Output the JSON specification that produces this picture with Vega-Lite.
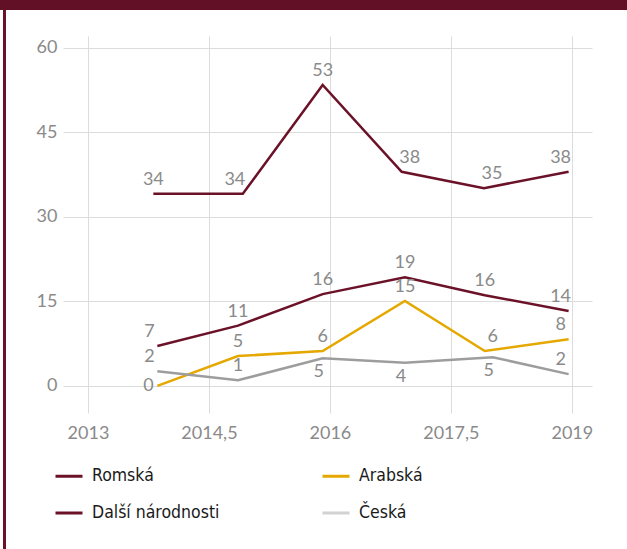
{
  "$schema": "https://vega.github.io/schema/vega-lite/v6.json",
  "padding": 0,
  "background": "white",
  "spacing": 0,
  "bounds": "flush",
  "config": {"view": {"stroke": null}, "font": "Lato", "concat": {"spacing": 0}},
  "vconcat": [
    {
      "width": 627, "height": 10,
      "data": {"values": [{}]},
      "mark": {"type": "point", "opacity": 0, "size": 0, "strokeWidth": 0},
      "view": {"fill": "#611026", "stroke": null}
    },
    {
      "spacing": 0,
      "bounds": "flush",
      "hconcat": [
        {"width": 3, "height": 1, "data": {"values": [{}]}, "mark": {"type": "point", "opacity": 0, "size": 0, "strokeWidth": 0}, "view": {"stroke": null}},
        {"width": 3, "height": 539, "data": {"values": [{}]}, "mark": {"type": "point", "opacity": 0, "size": 0, "strokeWidth": 0}, "view": {"fill": "#6b1229", "stroke": null}},
        {"width": 57, "height": 1, "data": {"values": [{}]}, "mark": {"type": "point", "opacity": 0, "size": 0, "strokeWidth": 0}, "view": {"stroke": null}},
        {
          "spacing": 0,
          "bounds": "flush",
          "vconcat": [
            {"width": 1, "height": 26, "data": {"values": [{}]}, "mark": {"type": "point", "opacity": 0, "size": 0, "strokeWidth": 0}, "view": {"stroke": null}},
            {
              "width": 529,
              "height": 377,
              "data": {"values": [
                {"series": "Romská", "year": 2013.81, "value": 34.1, "label": "34", "place": "above"},
                {"series": "Romská", "year": 2014.92, "value": 34.1, "label": "34", "place": "aboveLeft"},
                {"series": "Romská", "year": 2015.91, "value": 53.4, "label": "53", "place": "above"},
                {"series": "Romská", "year": 2016.89, "value": 38.0, "label": "38", "place": "aboveRight"},
                {"series": "Romská", "year": 2017.91, "value": 35.1, "label": "35", "place": "aboveRight"},
                {"series": "Romská", "year": 2018.96, "value": 38.0, "label": "38", "place": "aboveLeft"},
                {"series": "Další národnosti", "year": 2013.86, "value": 7.1, "label": "7", "place": "aboveLeft"},
                {"series": "Další národnosti", "year": 2014.86, "value": 10.7, "label": "11", "place": "above"},
                {"series": "Další národnosti", "year": 2015.91, "value": 16.3, "label": "16", "place": "above"},
                {"series": "Další národnosti", "year": 2016.93, "value": 19.3, "label": "19", "place": "above"},
                {"series": "Další národnosti", "year": 2017.92, "value": 16.1, "label": "16", "place": "above"},
                {"series": "Další národnosti", "year": 2018.96, "value": 13.3, "label": "14", "place": "aboveLeft"},
                {"series": "Arabská", "year": 2013.86, "value": 0, "label": "0", "place": "left"},
                {"series": "Arabská", "year": 2014.86, "value": 5.3, "label": "5", "place": "above"},
                {"series": "Arabská", "year": 2015.91, "value": 6.2, "label": "6", "place": "above"},
                {"series": "Arabská", "year": 2016.93, "value": 15.1, "label": "15", "place": "above"},
                {"series": "Arabská", "year": 2017.92, "value": 6.2, "label": "6", "place": "aboveRight"},
                {"series": "Arabská", "year": 2018.96, "value": 8.3, "label": "8", "place": "aboveLeft"},
                {"series": "Česká", "year": 2013.86, "value": 2.6, "label": "2", "place": "aboveLeft"},
                {"series": "Česká", "year": 2014.86, "value": 1.0, "label": "1", "place": "above"},
                {"series": "Česká", "year": 2015.91, "value": 4.9, "label": "5", "place": "below"},
                {"series": "Česká", "year": 2016.93, "value": 4.1, "label": "4", "place": "below"},
                {"series": "Česká", "year": 2018.02, "value": 5.1, "label": "5", "place": "below"},
                {"series": "Česká", "year": 2018.96, "value": 2.1, "label": "2", "place": "aboveLeft"}
              ]},
              "encoding": {
                "x": {
                  "field": "year", "type": "quantitative",
                  "scale": {"domain": [2012.69, 2019.25], "nice": false, "zero": false},
                  "axis": {
                    "values": [2013, 2014.5, 2016, 2017.5, 2019],
                    "format": ".1~f",
                    "labelExpr": "replace(datum.label, '.', ',')",
                    "title": null, "domain": false, "ticks": false, "grid": true,
                    "gridColor": "#dcdcdc", "labelPadding": 11,
                    "labelFont": "Lato", "labelFontSize": 18, "labelColor": "#8a8a8a"
                  }
                },
                "y": {
                  "field": "value", "type": "quantitative",
                  "scale": {"domain": [-4.8, 62.1], "nice": false, "zero": false},
                  "axis": {
                    "values": [0, 15, 30, 45, 60],
                    "title": null, "domain": false, "ticks": false, "grid": true,
                    "gridColor": "#dcdcdc", "labelPadding": 6,
                    "labelFont": "Lato", "labelFontSize": 18, "labelColor": "#8a8a8a"
                  }
                }
              },
              "layer": [
                {
                  "mark": {"type": "line", "strokeWidth": 2.5},
                  "encoding": {
                    "color": {
                      "field": "series", "type": "nominal",
                      "scale": {
                        "domain": ["Romská", "Další národnosti", "Arabská", "Česká"],
                        "range": ["#6b1229", "#6b1229", "#e5a800", "#9d9d9d"]
                      },
                      "legend": {
                        "title": null, "orient": "none", "legendX": 54, "legendY": 461,
                        "columns": 2, "padding": 0,
                        "symbolType": "stroke", "symbolSize": 729, "symbolStrokeWidth": 3,
                        "labelFont": "Liberation Sans Narrow, DejaVu Sans Condensed",
                        "labelFontSize": 17.5, "labelColor": "#1a1a1a", "labelOffset": 8,
                        "rowPadding": 13, "columnPadding": 96,
                        "encode": {"symbols": {"update": {"opacity": {"signal": "datum.value === 'Česká' ? 0.45 : 1"}}}}
                      }
                    },
                    "detail": {"field": "series"}
                  }
                },
                {
                  "transform": [{"filter": "datum.place === 'above'"}],
                  "mark": {"type": "text", "dy": -14, "font": "Lato", "fontSize": 18, "color": "#8a8a8a", "baseline": "middle", "align": "center"},
                  "encoding": {"text": {"field": "label"}}
                },
                {
                  "transform": [{"filter": "datum.place === 'aboveLeft'"}],
                  "mark": {"type": "text", "dy": -14, "dx": -8, "font": "Lato", "fontSize": 18, "color": "#8a8a8a", "baseline": "middle", "align": "center"},
                  "encoding": {"text": {"field": "label"}}
                },
                {
                  "transform": [{"filter": "datum.place === 'aboveRight'"}],
                  "mark": {"type": "text", "dy": -14, "dx": 8, "font": "Lato", "fontSize": 18, "color": "#8a8a8a", "baseline": "middle", "align": "center"},
                  "encoding": {"text": {"field": "label"}}
                },
                {
                  "transform": [{"filter": "datum.place === 'below'"}],
                  "mark": {"type": "text", "dy": 14, "dx": -4, "font": "Lato", "fontSize": 18, "color": "#8a8a8a", "baseline": "middle", "align": "center"},
                  "encoding": {"text": {"field": "label"}}
                },
                {
                  "transform": [{"filter": "datum.place === 'left'"}],
                  "mark": {"type": "text", "dx": -9, "font": "Lato", "fontSize": 18, "color": "#8a8a8a", "baseline": "middle", "align": "center"},
                  "encoding": {"text": {"field": "label"}}
                }
              ]
            }
          ]
        }
      ]
    }
  ]
}
